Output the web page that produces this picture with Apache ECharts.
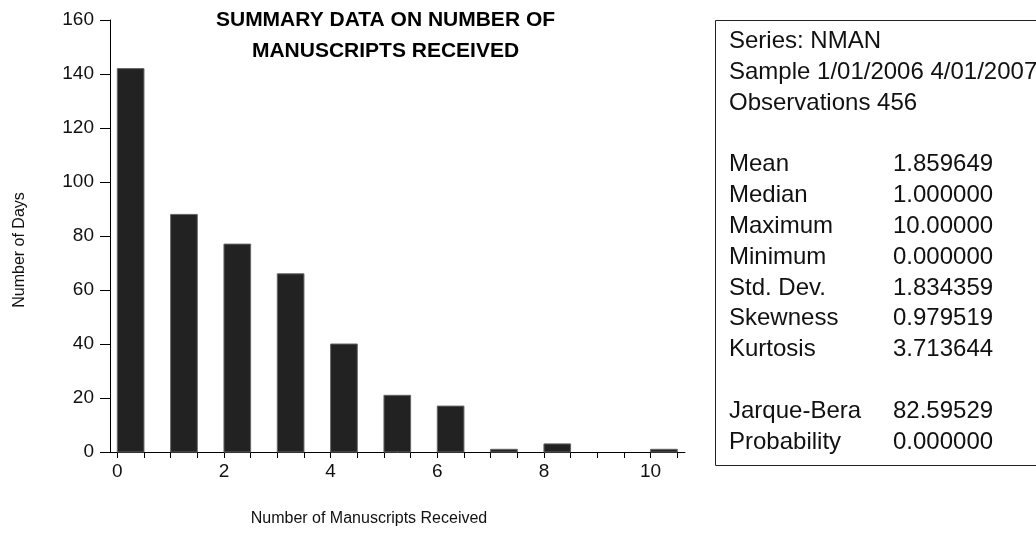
<!DOCTYPE html>
<html>
<head>
<meta charset="utf-8">
<title>Manuscripts received</title>
<script src="https://cdn.jsdelivr.net/npm/echarts@6/dist/echarts.min.js"></script>
<style>
  html, body { margin: 0; padding: 0; background: #fff; }
  #chart { width: 1036px; height: 533px; }
</style>
</head>
<body>
<div id="chart"></div>
<script>
// histogram: number of days with k manuscripts received
const binStarts = [0, 1, 2, 3, 4, 5, 6, 7, 8, 9, 10];
const dayCounts = [142, 88, 77, 66, 40, 21, 17, 1, 3, 0, 1];
const BIN_W = 0.5;

const xTickVals = [0, 0.5, 1, 1.5, 2, 2.5, 3, 3.5, 4, 4.5, 5, 5.5, 6, 6.5, 7, 7.5, 8, 8.5, 9, 9.5, 10, 10.5];
const xLabelVals = [0, 2, 4, 6, 8, 10];

const headerLines = ['Series: NMAN', 'Sample 1/01/2006 4/01/2007', 'Observations 456'];
const statNames = ['Mean', 'Median', 'Maximum', 'Minimum', 'Std. Dev.', 'Skewness', 'Kurtosis'];
const statValues = ['1.859649', '1.000000', '10.00000', '0.000000', '1.834359', '0.979519', '3.713644'];
const testNames = ['Jarque-Bera', 'Probability'];
const testValues = ['82.59529', '0.000000'];

const FONT = '"Liberation Sans", Arial, Helvetica, sans-serif';

const chart = echarts.init(document.getElementById('chart'));

// stats box text rows
const statsGraphics = [];
const rowY = i => 41.5 + i * 30.8;
const boxText = (txt, x, y) => ({
  type: 'text', x: x, y: y,
  style: { text: txt, fill: '#111', font: '24px ' + FONT, verticalAlign: 'middle' }
});
headerLines.forEach((t, i) => statsGraphics.push(boxText(t, 729, rowY(i))));
statNames.forEach((t, i) => {
  statsGraphics.push(boxText(t, 729, rowY(i + 4)));
  statsGraphics.push(boxText(statValues[i], 893, rowY(i + 4)));
});
testNames.forEach((t, i) => {
  statsGraphics.push(boxText(t, 729, rowY(i + 12)));
  statsGraphics.push(boxText(testValues[i], 893, rowY(i + 12)));
});

const option = {
  animation: false,
  textStyle: { fontFamily: FONT },
  grid: { left: 110, right: 351, top: 20, bottom: 81 },
  xAxis: {
    type: 'value',
    min: -0.137,
    max: 10.645,
    splitLine: { show: false },
    axisLine: { show: true, onZero: false, lineStyle: { color: '#000', width: 1 } },
    axisTick: { show: true, length: 6, customValues: xTickVals, lineStyle: { color: '#000' } },
    axisLabel: { customValues: xLabelVals, color: '#111', fontSize: 19, margin: 10 }
  },
  yAxis: {
    type: 'value',
    min: 0,
    max: 160,
    interval: 20,
    splitLine: { show: false },
    axisLine: { show: true, onZero: false, lineStyle: { color: '#000', width: 1 } },
    axisTick: { show: true, length: 10, lineStyle: { color: '#000' } },
    axisLabel: { color: '#111', fontSize: 19, margin: 16 }
  },
  series: [{
    type: 'custom',
    data: binStarts.map((b, i) => [b, dayCounts[i]]),
    renderItem: function (params, api) {
      if (!api.value(1)) return null;
      const top = api.coord([api.value(0), api.value(1)]);
      const base = api.coord([api.value(0) + BIN_W, 0]);
      return {
        type: 'rect',
        shape: { x: top[0], y: top[1], width: base[0] - top[0], height: base[1] - top[1] },
        style: { fill: '#222222', stroke: '#666', lineWidth: 1 }
      };
    }
  }],
  graphic: [
    {
      type: 'text', x: 385.5, y: 36,
      style: {
        text: 'SUMMARY DATA ON NUMBER OF\nMANUSCRIPTS RECEIVED',
        fill: '#000', font: 'bold 21px ' + FONT,
        align: 'center', verticalAlign: 'middle', lineHeight: 31
      }
    },
    {
      type: 'text', x: 20, y: 250, rotation: Math.PI / 2,
      style: { text: 'Number of Days', fill: '#111', font: '16px ' + FONT, align: 'center', verticalAlign: 'middle' }
    },
    {
      type: 'text', x: 369, y: 519,
      style: { text: 'Number of Manuscripts Received', fill: '#111', font: '16px ' + FONT, align: 'center', verticalAlign: 'middle' }
    },
    {
      type: 'rect',
      shape: { x: 715.5, y: 20.5, width: 340, height: 445 },
      style: { fill: 'none', stroke: '#222', lineWidth: 1 }
    }
  ].concat(statsGraphics)
};

chart.setOption(option);
window.addEventListener('resize', () => chart.resize());
</script>
</body>
</html>
